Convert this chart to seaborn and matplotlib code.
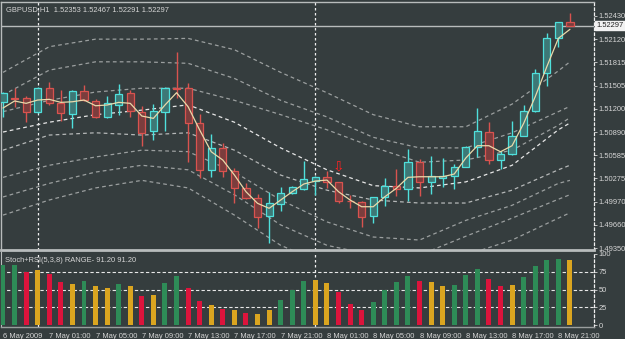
import numpy as np
import pandas as pd
import matplotlib
matplotlib.use("Agg")
import matplotlib.pyplot as plt
import matplotlib.transforms as mtransforms
import seaborn as sns

# =============================== #
# data (GBPUSD H1, one bar per hour)
# =============================== #
opens = [1.51291, 1.51338, 1.51336, 1.51159, 1.51469, 1.51278, 1.51128, 1.51437, 1.51305, 1.51093,
         1.51248, 1.51403, 1.51159, 1.50903, 1.51159, 1.51471, 1.51469, 1.51005, 1.50387, 1.50674,
         1.50374, 1.50152, 1.50020, 1.49778, 1.49937, 1.50078, 1.50131, 1.50245, 1.50298, 1.50224,
         1.49982, 1.49967, 1.49782, 1.50025, 1.50175, 1.50135, 1.50489, 1.50232, 1.50277, 1.50307,
         1.50431, 1.50695, 1.50894, 1.50519, 1.50599, 1.50841, 1.51168, 1.51667, 1.52139, 1.52353]
highs = [1.51424, 1.51477, 1.51367, 1.51486, 1.51556, 1.51446, 1.51446, 1.51512, 1.51327, 1.51371,
         1.51522, 1.51446, 1.51234, 1.51261, 1.51490, 1.51953, 1.51535, 1.51128, 1.50860, 1.50748,
         1.50409, 1.50219, 1.50069, 1.50100, 1.50166, 1.50175, 1.50510, 1.50307, 1.50374, 1.50232,
         1.50056, 1.49976, 1.50033, 1.50277, 1.50396, 1.50661, 1.50532, 1.50572, 1.50542, 1.50466,
         1.50705, 1.51204, 1.51026, 1.50642, 1.51036, 1.51248, 1.51720, 1.52205, 1.52347, 1.52467]
lows = [1.51093, 1.51225, 1.51026, 1.51148, 1.51248, 1.51036, 1.50947, 1.51301, 1.51082, 1.51071,
        1.51115, 1.51093, 1.50705, 1.50784, 1.50907, 1.51336, 1.50497, 1.50277, 1.50298, 1.50298,
        1.49946, 1.49999, 1.49615, 1.49416, 1.49848, 1.50076, 1.50122, 1.50056, 1.50145, 1.49946,
        1.49888, 1.49636, 1.49681, 1.49914, 1.50046, 1.49976, 1.50046, 1.50065, 1.50166, 1.50131,
        1.50427, 1.50563, 1.50462, 1.50400, 1.50586, 1.50837, 1.51155, 1.51499, 1.52020, 1.52291]
closes = [1.51403, 1.51334, 1.51159, 1.51469, 1.51278, 1.51138, 1.51437, 1.51314, 1.51093, 1.51270,
          1.51393, 1.51172, 1.50881, 1.51168, 1.51477, 1.51466, 1.51005, 1.50387, 1.50674, 1.50378,
          1.50152, 1.50012, 1.49768, 1.49946, 1.50086, 1.50166, 1.50264, 1.50298, 1.50232, 1.49980,
          1.49978, 1.49768, 1.50025, 1.50179, 1.50135, 1.50489, 1.50232, 1.50307, 1.50307, 1.50431,
          1.50691, 1.50903, 1.50519, 1.50595, 1.50841, 1.51168, 1.51667, 1.52139, 1.52343, 1.52297]

# fast moving average (tan line)
ma_fast = [1.51208, 1.51301, 1.51270, 1.51314, 1.51323, 1.51283, 1.51291, 1.51314, 1.51238, 1.51248,
           1.51283, 1.51270, 1.51102, 1.51071, 1.51248, 1.51411, 1.51225, 1.50917, 1.50629, 1.50519,
           1.50321, 1.50100, 1.49946, 1.49880, 1.49990, 1.50100, 1.50202, 1.50241, 1.50254, 1.50100,
           1.49990, 1.49901, 1.49901, 1.50033, 1.50145, 1.50290, 1.50298, 1.50298, 1.50298, 1.50334,
           1.50546, 1.50709, 1.50709, 1.50629, 1.50709, 1.51005, 1.51358, 1.51755, 1.52131, 1.52250]

# dashed envelope lines, read every 4 bars
band_bars = [0, 4, 8, 12, 16, 20, 24, 28, 32, 36, 40, 44, 48, 49]
band_1 = [1.5168, 1.5202, 1.5212, 1.5212, 1.5213, 1.5198, 1.5168, 1.5141, 1.5112, 1.5096, 1.5096, 1.5126, 1.5170, 1.5182]
band_2 = [1.5138, 1.5171, 1.5182, 1.5182, 1.5180, 1.5160, 1.5131, 1.5109, 1.5082, 1.5068, 1.5068, 1.5088, 1.5116, 1.5123]
band_3 = [1.5116, 1.5131, 1.5142, 1.5147, 1.5147, 1.5131, 1.5112, 1.5092, 1.5069, 1.5049, 1.5052, 1.5065, 1.5098, 1.5108]
band_4 = [1.5089, 1.5102, 1.5112, 1.5118, 1.5125, 1.5102, 1.5068, 1.5039, 1.5018, 1.5015, 1.5023, 1.5045, 1.5092, 1.5101]
band_5 = [1.5065, 1.5085, 1.5088, 1.5085, 1.5088, 1.5065, 1.5032, 1.5012, 1.4999, 1.4995, 1.4995, 1.5012, 1.5039, 1.5045]
band_6 = [1.5029, 1.5045, 1.5056, 1.5065, 1.5063, 1.5036, 1.4999, 1.4970, 1.4950, 1.4946, 1.4972, 1.4992, 1.5021, 1.5025]
band_7 = [1.5003, 1.5021, 1.5036, 1.5045, 1.5039, 1.5006, 1.4966, 1.4939, 1.4926, 1.4926, 1.4951, 1.4975, 1.5000, 1.5006]
band_8 = [1.4979, 1.4999, 1.5015, 1.5025, 1.5015, 1.4979, 1.4939, 1.4913, 1.4900, 1.4906, 1.4926, 1.4946, 1.4975, 1.4982]

# Stoch+RSI histogram
stoch_rsi = [84, 85, 75, 77, 71.5, 60, 57.5, 62, 55.6, 52.8,
             57.5, 55.6, 40.7, 42, 59, 68.7, 52.8, 33.6, 28, 22.4,
             21, 16.8, 15.9, 21, 35, 49.5, 62.6, 64, 59.3, 45.8,
             30, 20.6, 33, 49.5, 60, 68.7, 61.7, 60, 54.7, 56.5,
             70, 78.5, 65, 54.7, 56, 67.8, 82.7, 91, 93, 91.2]
stoch_state = ["up", "up", "down", "flat", "down", "down", "flat", "up", "flat", "flat",
               "up", "flat", "down", "flat", "up", "up", "down", "down", "flat", "down",
               "flat", "down", "flat", "flat", "up", "up", "up", "flat", "flat", "down",
               "down", "down", "up", "up", "up", "up", "down", "flat", "flat", "up",
               "up", "up", "down", "down", "flat", "up", "up", "up", "up", "flat"]

time_labels = ["6 May 2009", "7 May 01:00", "7 May 05:00", "7 May 09:00", "7 May 13:00",
               "7 May 17:00", "7 May 21:00", "8 May 01:00", "8 May 05:00", "8 May 09:00",
               "8 May 13:00", "8 May 17:00", "8 May 21:00"]
time_label_bars = [0, 4, 8, 12, 16, 20, 24, 28, 32, 36, 40, 44, 48]
day_separator_bars = [3, 27]

price_ticks = [1.52430, 1.52120, 1.51815, 1.51505, 1.51200, 1.50890,
               1.50585, 1.50275, 1.49970, 1.49660, 1.49350]
bid_price = 1.52297
arrow_bar = 29
arrow_price = 1.50431
stoch_ticks = [0, 25, 50, 75, 100]

# =============================== #
# style
# =============================== #
bg = "#353d3e"
fg = "#d6d6d6"
bull_edge, bull_fill = "#4fe0dc", "#3d7876"
bear_edge, bear_fill = "#d9534f", "#7b3d3d"
state_pal = {"up": "#2e8b57", "down": "#dc143c", "flat": "#daa520"}
dash = (0, (3, 2.5))

sns.set_style("dark", {"axes.facecolor": bg, "figure.facecolor": bg})
plt.rcParams["font.family"] = ["Liberation Sans", "DejaVu Sans"]
fs = 5.4

W, H = 625, 339
fig = plt.figure(figsize=(W / 100, H / 100), dpi=100)
fig.patch.set_facecolor(bg)
ax = fig.add_axes([1.5 / W, 1 - 250 / H, (594 - 1.5) / W, 248 / H])
ax2 = fig.add_axes([1.5 / W, 1 - 327 / H, (594 - 1.5) / W, 75 / H])

bars = np.arange(len(closes))
x_left, x_right = -0.13, 51.08

# =============================== #
# main price panel
# =============================== #
for i in bars:
    up = closes[i] >= opens[i]
    edge = bull_edge if up else bear_edge
    fill = bull_fill if up else bear_fill
    lo_body, hi_body = min(opens[i], closes[i]), max(opens[i], closes[i])
    ax.vlines(i, lows[i], lo_body, color=edge, lw=1.0, zorder=3)
    ax.vlines(i, hi_body, highs[i], color=edge, lw=1.0, zorder=3)
    ax.bar(i, max(hi_body - lo_body, 0.00002), bottom=lo_body, width=0.62,
           color=fill, edgecolor=edge, linewidth=0.9, zorder=4)

bands = [band_1, band_2, band_3, band_4, band_5, band_6, band_7, band_8]
band_cols = ["#9b9f9f", "#9b9f9f", "#9b9f9f", "#e6e6e6", "#b5b8b8", "#9b9f9f", "#9b9f9f", "#9b9f9f"]
for b, c in zip(bands, band_cols):
    sns.lineplot(x=band_bars, y=b, ax=ax, color=c, lw=0.9, linestyle=dash, zorder=2)

sns.lineplot(x=bars, y=ma_fast, ax=ax, color="#e9d9aa", lw=0.9, zorder=5)

for d in day_separator_bars:
    ax.axvline(d, color="#f0f0f0", lw=0.9, linestyle=(0, (2, 2)), zorder=1)
ax.axhline(bid_price, color="#b8bcbc", lw=1.0, zorder=1)

ax.text(arrow_bar, arrow_price, "\u21e9", color="#ff2020", ha="center", va="center",
        fontsize=10, zorder=6, family="DejaVu Sans")

ax.set_xlim(x_left, x_right)
ax.set_ylim(1.49328, 1.52612)
ax.set_xticks([])
ax.yaxis.tick_right()
ax.set_yticks(price_ticks)
ax.set_yticklabels([f"{p:.5f}" for p in price_ticks])
ax.tick_params(axis="y", colors=fg, labelsize=fs, length=2, pad=1.5, width=0.6)
ax.set_xlabel("")
ax.set_ylabel("")

trans = mtransforms.blended_transform_factory(ax.transAxes, ax.transData)
ax.text(1.004, bid_price, f"{bid_price:.5f}", transform=trans, fontsize=fs, color="#202020",
        ha="left", va="center", zorder=7,
        bbox=dict(boxstyle="square,pad=0.12", fc="#f2f2f2", ec="#f2f2f2"))

ax.text(0.008, 0.97, "GBPUSD,H1  1.52353 1.52467 1.52291 1.52297", transform=ax.transAxes,
        color=fg, fontsize=fs, ha="left", va="center")

for s in ["top", "left"]:
    ax.spines[s].set_color("#b8bcbc")
    ax.spines[s].set_linewidth(1.0)
ax.spines["bottom"].set_color("#b8bcbc")
ax.spines["bottom"].set_linewidth(2.0)
ax.spines["right"].set_color("#f0f0f0")
ax.spines["right"].set_linestyle((0, (2, 2)))
ax.spines["right"].set_linewidth(0.9)

# =============================== #
# Stoch+RSI panel
# =============================== #
df = pd.DataFrame({"bar": bars, "value": stoch_rsi, "state": stoch_state})
sns.barplot(data=df, x="bar", y="value", hue="state", palette=state_pal, ax=ax2,
            native_scale=True, dodge=False, width=0.43, errorbar=None, legend=False,
            saturation=1, linewidth=0, edgecolor="none", zorder=3)

for g in [25, 50, 75]:
    ax2.axhline(g, color="#e8e8e8", lw=0.8, linestyle=(0, (3, 2)), zorder=1)
for d in day_separator_bars:
    ax2.axvline(d, color="#f0f0f0", lw=0.9, linestyle=(0, (2, 2)), zorder=1)

ax2.text(0.006, 0.88, "Stoch+RSI(5,3,8) RANGE- 91.20 91.20", transform=ax2.transAxes,
         color=fg, fontsize=fs, ha="left", va="center", zorder=6)

ax2.set_xlim(x_left, x_right)
ax2.set_ylim(-2.8, 102.8)
ax2.yaxis.tick_right()
ax2.set_yticks(stoch_ticks)
ax2.set_yticklabels([str(t) for t in stoch_ticks])
ax2.set_xticks(time_label_bars)
ax2.set_xticklabels(time_labels, ha="left")
ax2.tick_params(axis="y", colors=fg, labelsize=fs, length=2, pad=1.5, width=0.6)
ax2.tick_params(axis="x", colors=fg, labelsize=fs, length=3, pad=1, width=0.6)
for lab in ax2.get_xticklabels():
    lab.set_horizontalalignment("left")
ax2.set_xlabel("")
ax2.set_ylabel("")

ax2.spines["top"].set_visible(False)
ax2.spines["left"].set_color("#b8bcbc")
ax2.spines["bottom"].set_color("#9a9e9e")
ax2.spines["bottom"].set_linewidth(1.0)
ax2.spines["right"].set_color("#f0f0f0")
ax2.spines["right"].set_linestyle((0, (2, 2)))
ax2.spines["right"].set_linewidth(0.9)

fig.savefig("out.png", dpi=100, facecolor=bg)
